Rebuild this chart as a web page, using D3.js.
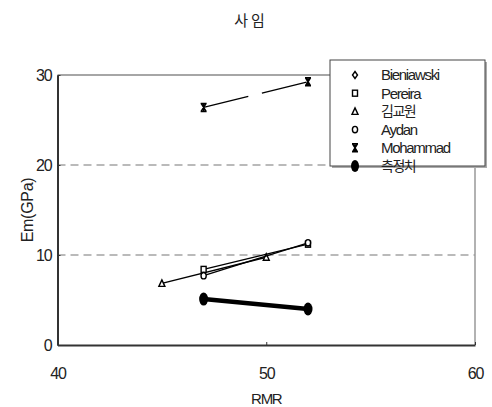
<!DOCTYPE html>
<html>
<head>
<meta charset="utf-8">
<script src="https://cdn.jsdelivr.net/npm/d3@7"></script>
<style>
  html, body { margin: 0; padding: 0; background: #fff; }
  svg { display: block; }
  .num { font-family: "Liberation Sans Narrow", "Liberation Sans", Arial, sans-serif; }
  .kr { font-family: "Noto Sans CJK KR", sans-serif; }
</style>
</head>
<body>
<svg id="chart" width="492" height="407"></svg>
<script>
// RMR vs. deformation modulus, 사임 site
const seriesNames = ["Bieniawski", "Pereira", "김교원", "Aydan", "Mohammad", "측정치"];
const bieniawskiRMR = [52];
const bieniawskiEm = [4.0];
const pereiraRMR = [47, 52];
const pereiraEm = [8.4, 11.2];
const kimRMR = [45, 50];
const kimEm = [6.85, 9.75];
const aydanRMR = [47, 52];
const aydanEm = [7.7, 11.35];
const mohammadRMR = [47, 52];
const mohammadEm = [26.4, 29.25];
const measuredRMR = [47, 52];
const measuredEm = [5.1, 4.0];

const xTicks = [40, 50, 60];
const yTicks = [0, 10, 20, 30];

const svg = d3.select("#chart");
const x = d3.scaleLinear().domain([40, 60]).range([57.5, 475]);
const y = d3.scaleLinear().domain([0, 30]).range([345, 75]);

// title
svg.append("text").attr("class", "kr")
  .attr("x", 251).attr("y", 26).attr("text-anchor", "middle")
  .attr("font-size", 15).attr("fill", "#222").attr("letter-spacing", 3)
  .text("사임");

// horizontal grid: dashed at 10, 20, solid frame line at 30
const g = svg.append("g");
g.selectAll("line.grid").data([10, 20]).join("line")
  .attr("x1", x(40)).attr("x2", x(60))
  .attr("y1", d => y(d)).attr("y2", d => y(d))
  .attr("stroke", "#777").attr("stroke-width", 1.2).attr("stroke-dasharray", "8,5");
g.append("line").attr("x1", x(40)).attr("x2", x(60)).attr("y1", y(30)).attr("y2", y(30))
  .attr("stroke", "#888").attr("stroke-width", 1.5);
g.append("line").attr("x1", x(60)).attr("x2", x(60)).attr("y1", y(30)).attr("y2", y(0))
  .attr("stroke", "#999").attr("stroke-width", 1.5);

// axes
const xAxis = d3.axisBottom(x).tickValues(xTicks).tickSize(-3).tickPadding(28).tickSizeOuter(0);
const yAxis = d3.axisLeft(y).tickValues(yTicks).tickSize(-3).tickPadding(6).tickSizeOuter(0);

const gx = svg.append("g").attr("transform", `translate(0,${y(0)})`).call(xAxis);
const gy = svg.append("g").attr("transform", `translate(${x(40)},0)`).call(yAxis);
[gx, gy].forEach(a => {
  a.select(".domain").attr("stroke", "#333").attr("stroke-width", 2);
  a.selectAll(".tick line").attr("stroke", "#333").attr("stroke-width", 1);
  a.selectAll(".tick text").attr("class", "num").attr("font-size", 16)
    .attr("fill", "#222").attr("letter-spacing", -1.2);
});
gx.selectAll(".tick text").attr("dy", "0.35em");

// axis titles
svg.append("text").attr("class", "num")
  .attr("x", x(50)).attr("y", 404).attr("text-anchor", "middle")
  .attr("font-size", 15).attr("fill", "#222").attr("letter-spacing", -1.3).text("RMR");
svg.append("text").attr("class", "num")
  .attr("transform", `translate(33,${y(15)}) rotate(-90)`).attr("text-anchor", "middle")
  .attr("font-size", 16).attr("fill", "#222").attr("letter-spacing", -0.3).text("Em(GPa)");

const line = d3.line().x(d => x(d[0])).y(d => y(d[1]));
const zipPts = (a, b) => a.map((v, i) => [v, b[i]]);

const plot = svg.append("g");

// marker drawing helpers
function marker(sel, type, big) {
  if (type === "diamond") {
    sel.append("path").attr("d", "M0,-3.5 L2.5,0 L0,3.5 L-2.5,0 Z")
      .attr("fill", "#fff").attr("stroke", "#000").attr("stroke-width", 1.4);
  } else if (type === "square") {
    sel.append("rect").attr("x", -2.5).attr("y", -3).attr("width", 5).attr("height", 6)
      .attr("fill", "#fff").attr("stroke", "#000").attr("stroke-width", 1.4);
  } else if (type === "triangle") {
    sel.append("path").attr("d", "M0,-3.5 L3,3 L-3,3 Z")
      .attr("fill", "#fff").attr("stroke", "#000").attr("stroke-width", 1.4);
  } else if (type === "circle") {
    sel.append("ellipse").attr("rx", 2.6).attr("ry", 3.2)
      .attr("fill", "#fff").attr("stroke", "#000").attr("stroke-width", 1.4);
  } else if (type === "star") {
    sel.append("path").attr("d", "M-3,-4 L3,-4 M-3,4 L3,4 M-2.5,-4 L2.5,4 M2.5,-4 L-2.5,4 M0,-4 L0,4")
      .attr("fill", "none").attr("stroke", "#000").attr("stroke-width", 1.5);
  } else if (type === "blob") {
    sel.append("ellipse").attr("rx", big ? 4.5 : 4).attr("ry", big ? 6.5 : 6).attr("fill", "#000");
  }
}

const series = [
  { name: seriesNames[0], px: bieniawskiRMR, py: bieniawskiEm, m: "diamond", w: 1.3 },
  { name: seriesNames[2], px: kimRMR, py: kimEm, m: "triangle", w: 1.3 },
  { name: seriesNames[1], px: pereiraRMR, py: pereiraEm, m: "square", w: 1.3 },
  { name: seriesNames[3], px: aydanRMR, py: aydanEm, m: "circle", w: 1.3 },
  { name: seriesNames[4], px: mohammadRMR, py: mohammadEm, m: "star", w: 1.3, dash: "46,14" },
  { name: seriesNames[5], px: measuredRMR, py: measuredEm, m: "blob", w: 4.5 }
];

series.forEach(s => {
  const pts = zipPts(s.px, s.py);
  if (pts.length > 1) {
    plot.append("path").attr("d", line(pts)).attr("fill", "none")
      .attr("stroke", "#000").attr("stroke-width", s.w)
      .attr("stroke-dasharray", s.dash || null);
  }
  pts.forEach(p => {
    const mg = plot.append("g").attr("transform", `translate(${x(p[0])},${y(p[1])})`);
    marker(mg, s.m, true);
  });
});

// legend
const lg = svg.append("g");
lg.append("rect").attr("x", 332).attr("y", 62).attr("width", 155).attr("height", 106).attr("fill", "#aaa");
lg.append("rect").attr("x", 330).attr("y", 60).attr("width", 155).attr("height", 106)
  .attr("fill", "#fff").attr("stroke", "#444").attr("stroke-width", 1);
const legendMarkers = ["diamond", "square", "triangle", "circle", "star", "blob"];
seriesNames.forEach((n, i) => {
  const ry = 75 + i * 18.2;
  const mg = lg.append("g").attr("transform", `translate(355,${ry})`);
  marker(mg, legendMarkers[i], false);
  const isKr = /[가-힣]/.test(n);
  lg.append("text").attr("class", isKr ? "kr" : "num")
    .attr("x", 381).attr("y", ry).attr("dy", "0.36em")
    .attr("font-size", isKr ? 14 : 15).attr("fill", "#222")
    .attr("letter-spacing", isKr ? -1.5 : -1.3).text(n);
});
</script>
</body>
</html>
